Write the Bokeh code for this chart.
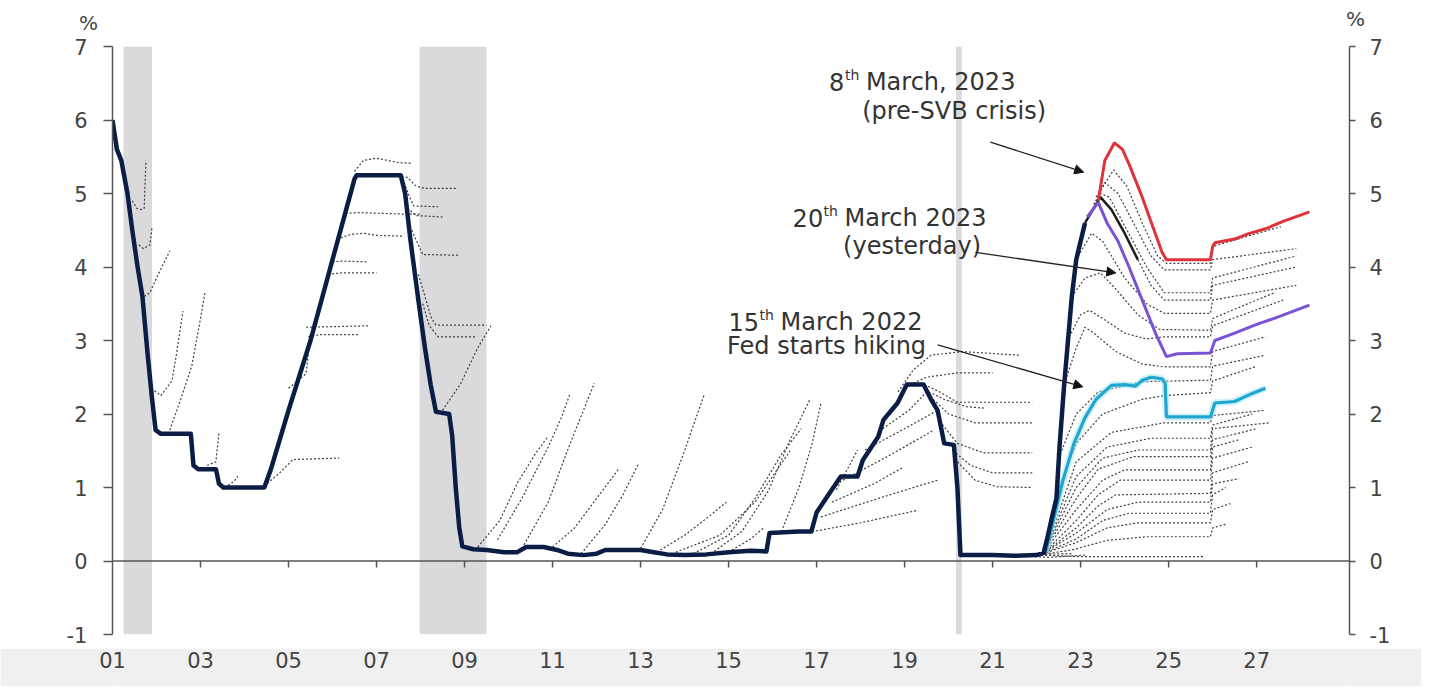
from bokeh.plotting import figure
from bokeh.layouts import column
from bokeh.models import LinearAxis, FixedTicker, Span, Label, Arrow, NormalHead, Div
from bokeh.embed import file_html
from bokeh.resources import INLINE

# ---------------- data ----------------
y_ticks = [-1, 0, 1, 2, 3, 4, 5, 6, 7]
x_ticks = [2001, 2003, 2005, 2007, 2009, 2011, 2013, 2015, 2017, 2019, 2021, 2023, 2025, 2027]
x_labels = ["01", "03", "05", "07", "09", "11", "13", "15", "17", "19", "21", "23", "25", "27"]
unit_label = "%"

rec_start = [2001.25, 2007.98, 2020.17]
rec_end = [2001.9, 2009.5, 2020.3]

fed_funds = [(2001.0, 6.0), (2001.1, 5.6), (2001.2, 5.45), (2001.34, 5.0), (2001.45, 4.5),
             (2001.57, 4.0), (2001.68, 3.6), (2001.8, 2.8), (2001.9, 2.2), (2001.98, 1.78),
             (2002.1, 1.73), (2002.78, 1.73), (2002.84, 1.3), (2002.95, 1.25), (2003.35, 1.25),
             (2003.42, 1.05), (2003.52, 1.0), (2004.45, 1.0), (2004.6, 1.25), (2005.0, 2.05),
             (2005.5, 3.0), (2006.0, 4.1), (2006.5, 5.2), (2006.55, 5.25), (2007.55, 5.25),
             (2007.65, 5.0), (2007.77, 4.37), (2007.95, 3.55), (2008.1, 2.9), (2008.23, 2.4),
             (2008.35, 2.03), (2008.65, 2.0), (2008.72, 1.7), (2008.8, 1.0), (2008.88, 0.45),
             (2008.95, 0.2), (2009.2, 0.16), (2009.5, 0.15), (2009.9, 0.12), (2010.2, 0.12),
             (2010.4, 0.19), (2010.8, 0.19), (2011.1, 0.15), (2011.35, 0.1), (2011.7, 0.08),
             (2012.0, 0.1), (2012.2, 0.15), (2012.6, 0.15), (2013.0, 0.15), (2013.3, 0.12),
             (2013.6, 0.09), (2014.0, 0.08), (2014.5, 0.09), (2015.0, 0.12), (2015.5, 0.14),
             (2015.86, 0.13), (2015.93, 0.38), (2016.6, 0.4), (2016.88, 0.4), (2017.0, 0.66),
             (2017.3, 0.93), (2017.55, 1.15), (2017.93, 1.15), (2018.05, 1.37), (2018.4, 1.69),
             (2018.52, 1.92), (2018.84, 2.15), (2019.05, 2.4), (2019.43, 2.4), (2019.6, 2.2),
             (2019.75, 2.05), (2019.9, 1.6), (2020.12, 1.58), (2020.2, 1.0), (2020.27, 0.08),
             (2020.5, 0.08), (2021.0, 0.08), (2021.5, 0.07), (2022.0, 0.08), (2022.16, 0.11),
             (2022.25, 0.33), (2022.35, 0.6), (2022.45, 0.85), (2022.52, 1.55), (2022.62, 2.35),
             (2022.72, 3.05), (2022.8, 3.6), (2022.9, 4.1), (2023.0, 4.35), (2023.1, 4.6)]

# market-implied paths, 2001-2006
fwd_2001 = [
    [(2001.45, 4.9), (2001.55, 4.8), (2001.65, 4.78), (2001.72, 4.8), (2001.76, 5.45)],
    [(2001.6, 4.3), (2001.7, 4.25), (2001.85, 4.3), (2001.9, 4.55)],
    [(2001.72, 3.6), (2001.85, 3.65), (2002.0, 3.85), (2002.3, 4.22)],
    [(2001.88, 2.35), (2002.1, 2.25), (2002.35, 2.45), (2002.45, 2.8), (2002.6, 3.4)],
    [(2002.3, 1.78), (2002.55, 2.2), (2002.8, 2.65), (2003.0, 3.3), (2003.1, 3.65)],
    [(2003.15, 1.3), (2003.35, 1.35), (2003.42, 1.75)],
    [(2003.55, 1.0), (2003.75, 1.08), (2003.85, 1.15)],
    [(2004.45, 1.02), (2004.8, 1.2), (2005.1, 1.38), (2006.15, 1.4)],
    [(2005.0, 2.35), (2005.4, 2.55), (2005.5, 3.1)],
    [(2005.45, 3.05), (2005.7, 3.08), (2006.6, 3.08)],
    [(2005.4, 3.18), (2006.85, 3.2)],
]
# market-implied paths, 2006-2009
fwd_2007 = [
    [(2005.9, 3.9), (2006.2, 3.92), (2007.0, 3.92)],
    [(2006.0, 4.07), (2006.2, 4.08), (2006.8, 4.07)],
    [(2006.1, 4.38), (2006.4, 4.44), (2006.7, 4.46), (2007.0, 4.43), (2007.6, 4.42)],
    [(2006.3, 4.73), (2006.6, 4.74), (2007.6, 4.72), (2008.0, 4.72)],
    [(2006.5, 5.3), (2006.7, 5.45), (2007.0, 5.48), (2007.5, 5.42), (2007.8, 5.41)],
    [(2007.3, 5.24), (2007.7, 5.22), (2007.9, 5.1), (2008.1, 5.07), (2008.8, 5.07)],
    [(2007.6, 5.2), (2007.75, 4.95), (2007.85, 4.83), (2008.4, 4.82)],
    [(2007.7, 4.8), (2007.9, 4.7), (2008.5, 4.68)],
    [(2007.8, 4.5), (2007.95, 4.3), (2008.05, 4.17), (2008.9, 4.16)],
    [(2007.95, 3.9), (2008.1, 3.6), (2008.25, 3.3), (2008.35, 3.21), (2009.5, 3.21)],
    [(2008.05, 3.5), (2008.2, 3.2), (2008.4, 3.05), (2009.25, 3.05)],
    [(2008.5, 2.05), (2008.9, 2.4), (2009.3, 2.9), (2009.6, 3.2)],
]
# market-implied paths, zero-lower-bound years
fwd_zlb = [
    [(2009.3, 0.19), (2009.8, 0.55), (2010.2, 1.06), (2010.6, 1.45), (2010.9, 1.7)],
    [(2009.75, 0.29), (2010.3, 0.85), (2010.9, 1.55), (2011.2, 1.95), (2011.4, 2.28)],
    [(2010.35, 0.22), (2010.9, 0.8), (2011.4, 1.6), (2011.95, 2.42)],
    [(2011.0, 0.19), (2011.5, 0.45), (2012.0, 0.85), (2012.5, 1.25)],
    [(2011.65, 0.1), (2012.2, 0.5), (2012.6, 0.9), (2012.95, 1.32)],
    [(2013.0, 0.17), (2013.5, 0.7), (2014.0, 1.5), (2014.45, 2.27)],
    [(2013.45, 0.15), (2014.0, 0.35), (2014.5, 0.58), (2014.95, 0.8)],
    [(2013.8, 0.12), (2014.8, 0.35), (2015.6, 0.8), (2016.0, 1.15), (2016.4, 1.5)],
    [(2014.2, 0.1), (2015.0, 0.35), (2015.6, 0.85), (2016.2, 1.45), (2016.65, 1.8)],
    [(2014.6, 0.1), (2015.3, 0.4), (2015.9, 0.95), (2016.4, 1.65), (2016.85, 2.2)],
    [(2015.0, 0.12), (2015.5, 0.3), (2015.8, 0.45)],
    [(2016.2, 0.4), (2016.6, 1.0), (2016.9, 1.6), (2017.1, 2.15)],
]
# market-implied paths, 2016-2022
fwd_2019 = [
    [(2016.9, 0.4), (2018.0, 0.52), (2019.3, 0.69)],
    [(2017.1, 0.6), (2018.5, 0.87), (2019.75, 1.1)],
    [(2017.35, 0.8), (2018.3, 1.05), (2018.98, 1.28)],
    [(2017.45, 0.97), (2017.7, 1.25), (2017.93, 1.51)],
    [(2017.6, 1.1), (2018.7, 1.45), (2019.66, 1.78)],
    [(2018.1, 1.51), (2019.0, 1.8), (2019.75, 2.05)],
    [(2018.5, 1.8), (2019.1, 2.05), (2019.5, 2.3)],
    [(2018.85, 2.3), (2019.2, 2.6), (2019.6, 2.8), (2020.3, 2.85), (2021.6, 2.8)],
    [(2019.2, 2.42), (2019.5, 2.5), (2020.2, 2.56), (2021.0, 2.56)],
    [(2019.45, 2.4), (2019.8, 2.3), (2020.2, 2.16), (2021.9, 2.16)],
    [(2019.55, 2.3), (2019.9, 2.2), (2020.4, 2.1), (2020.8, 2.08)],
    [(2019.65, 2.2), (2020.0, 2.0), (2020.6, 1.88), (2021.9, 1.88)],
    [(2019.8, 1.9), (2020.2, 1.6), (2020.8, 1.47), (2021.9, 1.47)],
    [(2020.1, 1.5), (2020.5, 1.3), (2021.0, 1.2), (2021.9, 1.2)],
    [(2020.2, 1.35), (2020.6, 1.1), (2021.1, 1.01), (2021.9, 1.0)],
    [(2021.2, 0.08), (2022.8, 0.1)],
    [(2021.6, 0.07), (2022.3, 0.05), (2023.1, 0.08)],
]
# market-implied paths from the 2022 hiking cycle
fwd_2022 = [
    [(2022.1, 0.08), (2023.0, 0.06), (2025.8, 0.06)],
    [(2022.0, 0.08), (2022.8, 0.15), (2023.6, 0.28), (2024.5, 0.33), (2025.95, 0.33), (2026.0, 0.45), (2026.3, 0.5)],
    [(2022.05, 0.08), (2022.9, 0.25), (2023.6, 0.45), (2024.3, 0.52), (2025.95, 0.52), (2026.0, 0.7), (2026.4, 0.78)],
    [(2022.1, 0.09), (2022.9, 0.3), (2023.5, 0.55), (2024.1, 0.65), (2025.95, 0.65), (2026.0, 0.9), (2026.3, 1.0)],
    [(2022.12, 0.1), (2022.9, 0.38), (2023.6, 0.7), (2024.3, 0.8), (2025.95, 0.8), (2026.0, 1.05), (2026.6, 1.12)],
    [(2022.15, 0.1), (2022.9, 0.45), (2023.4, 0.75), (2023.8, 0.9), (2025.95, 0.92), (2026.0, 1.2), (2026.8, 1.35)],
    [(2022.18, 0.12), (2022.9, 0.55), (2023.4, 0.9), (2023.9, 1.1), (2025.95, 1.1), (2026.0, 1.4), (2026.9, 1.55)],
    [(2022.2, 0.15), (2022.9, 0.7), (2023.5, 1.1), (2024.0, 1.24), (2025.95, 1.24), (2026.0, 1.55), (2026.6, 1.65)],
    [(2022.22, 0.18), (2022.9, 0.85), (2023.4, 1.25), (2024.2, 1.42), (2025.95, 1.42), (2026.0, 1.65), (2027.0, 1.8)],
    [(2022.25, 0.22), (2022.9, 1.0), (2023.5, 1.4), (2024.3, 1.51), (2025.95, 1.51), (2026.0, 1.8), (2027.3, 1.88)],
    [(2022.27, 0.25), (2022.9, 1.15), (2023.6, 1.55), (2024.6, 1.67), (2025.95, 1.67), (2026.0, 1.85), (2026.9, 2.0)],
    [(2022.3, 0.3), (2022.9, 1.35), (2023.7, 1.75), (2024.9, 1.88), (2025.95, 1.88), (2026.0, 1.98), (2027.2, 2.05)],
    [(2022.45, 0.9), (2022.9, 1.6), (2023.5, 2.0), (2024.4, 2.2), (2024.9, 2.25), (2025.95, 2.29), (2026.0, 2.45), (2027.0, 2.65)],
    [(2022.5, 1.4), (2022.9, 2.0), (2023.4, 2.3), (2024.4, 2.44), (2025.95, 2.46), (2026.0, 2.65), (2027.2, 2.8)],
    [(2022.6, 2.35), (2022.9, 2.9), (2023.1, 3.18), (2023.3, 3.1), (2023.8, 2.85), (2024.4, 2.68), (2024.9, 2.64),
     (2025.95, 2.64), (2026.0, 2.85), (2027.2, 3.05)],
    [(2022.7, 3.0), (2023.0, 3.35), (2023.2, 3.41), (2023.5, 3.3), (2024.0, 3.1), (2024.5, 3.02), (2024.9, 3.05),
     (2025.95, 3.05), (2026.0, 3.2), (2027.6, 3.55)],
    [(2022.8, 3.6), (2023.1, 3.85), (2023.45, 3.92), (2023.8, 3.7), (2024.3, 3.35), (2024.8, 3.15), (2025.95, 3.14),
     (2026.0, 3.3), (2027.4, 3.65)],
    [(2022.9, 4.1), (2023.25, 4.46), (2023.5, 4.35), (2024.0, 3.85), (2024.5, 3.5), (2024.9, 3.37), (2025.95, 3.37),
     (2026.0, 3.55), (2027.9, 3.75)],
    [(2024.3, 4.1), (2024.6, 3.75), (2024.9, 3.55), (2025.95, 3.55), (2026.0, 3.75), (2027.9, 4.0)],
    [(2023.2, 4.7), (2023.45, 5.0), (2023.65, 4.95), (2024.1, 4.45), (2024.5, 4.0), (2024.9, 3.65), (2025.95, 3.65),
     (2026.0, 3.85), (2027.9, 4.15)],
    [(2023.3, 4.85), (2023.55, 5.15), (2023.85, 5.0), (2024.2, 4.6), (2024.6, 4.15), (2024.9, 3.96), (2025.95, 3.96),
     (2026.0, 4.1), (2027.9, 4.25)],
    [(2023.35, 4.95), (2023.75, 5.32), (2024.05, 5.1), (2024.4, 4.6), (2024.75, 4.15), (2024.95, 4.05), (2025.95, 4.05),
     (2026.0, 4.28), (2027.55, 4.55)],
]

# highlighted paths
path_8mar23 = [(2023.4, 4.9), (2023.55, 5.45), (2023.77, 5.69), (2023.95, 5.6), (2024.1, 5.4), (2024.4, 4.95),
               (2024.7, 4.45), (2024.85, 4.2), (2024.95, 4.1), (2025.95, 4.1), (2026.0, 4.28), (2026.05, 4.33),
               (2026.5, 4.38), (2026.8, 4.45), (2027.2, 4.52), (2027.6, 4.62), (2028.2, 4.75)]
path_20mar23 = [(2023.15, 4.68), (2023.4, 4.88), (2023.6, 4.6), (2023.85, 4.35), (2024.1, 4.0), (2024.4, 3.55),
                (2024.7, 3.1), (2024.95, 2.78), (2025.2, 2.82), (2025.95, 2.83), (2026.05, 3.0), (2026.5, 3.1),
                (2027.0, 3.22), (2027.4, 3.3), (2028.2, 3.48)]
path_15mar22 = [(2022.2, 0.12), (2022.4, 0.6), (2022.6, 1.1), (2022.85, 1.6), (2023.1, 1.95), (2023.35, 2.2),
                (2023.7, 2.39), (2024.0, 2.4), (2024.25, 2.38), (2024.4, 2.46), (2024.6, 2.5), (2024.85, 2.48),
                (2024.92, 2.42), (2024.95, 1.96), (2025.95, 1.96), (2026.05, 2.15), (2026.5, 2.17),
                (2026.9, 2.28), (2027.2, 2.35)]
path_black = [(2023.1, 4.6), (2023.45, 4.95), (2023.7, 4.78), (2024.0, 4.46), (2024.3, 4.1)]


def split(pts):
    return [pt[0] for pt in pts], [pt[1] for pt in pts]


W = 1421
AX = "#555555"
LBL = "#444444"

# ---------------- unit header ----------------
header = Div(
    text=('<div style="position:relative;width:%dpx;height:30px;font-family:\'DejaVu Sans\';'
          'font-size:20px;line-height:20px;color:%s">'
          '<span style="position:absolute;left:79px;top:13px">%s</span>'
          '<span style="position:absolute;left:1346px;top:9px">%s</span></div>')
    % (W, LBL, unit_label, unit_label),
    width=W, height=30, margin=(0, 0, 0, 0))

# ---------------- main figure ----------------
p = figure(width=W, height=618, x_range=(2001, 2029.11), y_range=(-1, 7),
           output_backend="svg", toolbar_location=None, x_axis_location=None,
           min_border_left=112, min_border_right=72, min_border_top=16, min_border_bottom=14)
p.outline_line_color = None
p.grid.visible = False


def style_y(ax, tick_out, standoff):
    ax.ticker = FixedTicker(ticks=y_ticks)
    ax.major_label_overrides = {-1: "-1"}
    ax.axis_line_color = AX
    ax.axis_line_width = 1.5
    ax.major_tick_out = tick_out
    ax.major_tick_in = 0
    ax.major_tick_line_color = AX
    ax.major_tick_line_width = 1.5
    ax.minor_tick_line_color = None
    ax.major_label_text_font = "DejaVu Sans"
    ax.major_label_text_font_size = "21px"
    ax.major_label_text_color = LBL
    ax.major_label_standoff = standoff


style_y(p.yaxis[0], 9, 16)
ra = LinearAxis()
style_y(ra, 6, 14)
p.add_layout(ra, "right")

# recession shading
p.quad(left=rec_start, right=rec_end, bottom=-1, top=7, fill_color="#dadadc", line_color=None)

# zero line with year ticks
p.add_layout(Span(location=0, dimension="width", line_color=AX, line_width=1.5))
p.segment(x0=x_ticks[1:], y0=0, x1=x_ticks[1:], y1=-0.09, line_color=AX, line_width=1.5)

# dotted market-implied paths
all_fwd = fwd_2001 + fwd_2007 + fwd_zlb + fwd_2019 + fwd_2022
fx = [split(c)[0] for c in all_fwd]
fy = [split(c)[1] for c in all_fwd]
p.multi_line(fx, fy, line_color="#2a2a2a", line_width=1.2, line_dash="2 2", line_alpha=0.9)

cx, cy = split(path_15mar22)
p.line(cx, cy, line_color="#9fe3f5", line_width=7, line_alpha=0.5)
p.line(cx, cy, line_color="#20a6cf", line_width=3.2)
bx, by = split(path_black)
p.line(bx, by, line_color="#1c1c1c", line_width=2.5)
px_, py_ = split(path_20mar23)
p.line(px_, py_, line_color="#7a52d4", line_width=3)
rx, ry = split(path_8mar23)
p.line(rx, ry, line_color="#df333b", line_width=3)

fx_, fy_ = split(fed_funds)
p.line(fx_, fy_, line_color="#0c1d45", line_width=4.5, line_join="round")

# ---------------- annotations ----------------
TXT = "#333333"


def label(x, y, text, size="24px", align="left", xo=0):
    p.add_layout(Label(x=x, y=y, text=text, text_font="DejaVu Sans", text_font_size=size,
                       text_color=TXT, text_align=align, text_baseline="middle", x_offset=xo))


# 8th March, 2023
label(2017.28, 6.517, "8")
label(2017.28, 6.617, "th", size="14px", xo=16)
label(2017.28, 6.517, "March, 2023", xo=37)
label(2020.125, 6.122, "(pre-SVB crisis)", align="center")
# 20th March 2023
label(2016.455, 4.667, "20")
label(2016.455, 4.767, "th", size="14px", xo=31)
label(2016.455, 4.667, "March 2023", xo=52)
label(2019.17, 4.286, "(yesterday)", align="center")
# 15th March 2022
label(2015.0, 3.252, "15")
label(2015.0, 3.352, "th", size="14px", xo=31)
label(2015.0, 3.252, "March 2022", xo=52)
label(2017.227, 2.925, "Fed starts hiking", align="center")

for xs0, ys0, xe, ye in [(2020.95, 5.70, 2023.07, 5.29),
                         (2020.61, 4.20, 2023.8, 3.92),
                         (2019.75, 2.94, 2023.05, 2.37)]:
    p.add_layout(Arrow(end=NormalHead(size=9, fill_color="#111111", line_color="#111111"),
                       x_start=xs0, y_start=ys0, x_end=xe, y_end=ye,
                       line_color="#222222", line_width=1.3))

# ---------------- year-label strip ----------------
strip = figure(width=W, height=38, x_range=p.x_range, y_range=(0, 1),
               output_backend="svg", toolbar_location=None,
               x_axis_location="above", y_axis_location=None,
               min_border_left=112, min_border_right=72, min_border_top=25, min_border_bottom=0)
strip.outline_line_color = None
strip.grid.visible = False
strip.background_fill_color = "#f0f0f0"
strip.border_fill_color = "#f0f0f0"
xa = strip.xaxis[0]
xa.ticker = FixedTicker(ticks=x_ticks)
xa.major_label_overrides = {t: s for t, s in zip(x_ticks, x_labels)}
xa.axis_line_color = None
xa.major_tick_line_color = None
xa.minor_tick_line_color = None
xa.major_label_text_font = "DejaVu Sans"
xa.major_label_text_font_size = "21px"
xa.major_label_text_color = LBL
xa.major_label_standoff = 0

layout = column(header, p, strip, spacing=0)
open("out.html", "w").write(file_html(layout, INLINE))
